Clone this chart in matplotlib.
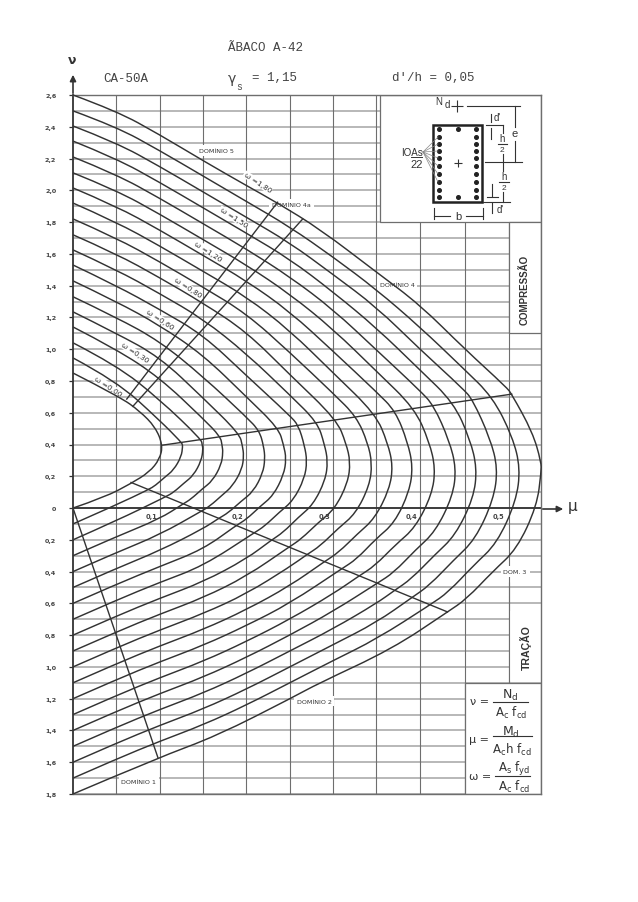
import matplotlib
matplotlib.use("Agg")
import matplotlib.pyplot as plt
from matplotlib.patches import PathPatch, Rectangle
from matplotlib.path import Path

w180 = [(0,2.6),(.05,2.5),(.10,2.35),(.152,2.18),(.20,2.03),(.236,1.92),(.285,1.755),(.35,1.485),(.40,1.28),(.452,1.0),(.50,.76),(.506,.717),(.53,.478),(.54,.29),(.54,.226),(.535,.013),(.512,-.258),(.484,-.40),(.454,-.572),(.432,-.654),(.368,-.887),(.282,-1.107),(.254,-1.19),(.166,-1.434),(.098,-1.572),(0,-1.8)]
w170 = [(0,2.50),(.05,2.40),(.10,2.25),(.15,2.09),(.20,1.93),(.25,1.77),(.30,1.58),(.35,1.375),(.40,1.14),(.45,.88),(.484,.699),(.507,.448),(.516,.25),(.511,.042),(.489,-.222),(.462,-.361),(.433,-.529),(.412,-.609),(.35,-.825),(.30,-.96),(.25,-1.10),(.20,-1.24),(.15,-1.365),(.10,-1.468),(.05,-1.58),(0,-1.70)]
w160 = [(0,2.405),(.05,2.30),(.10,2.15),(.15,1.99),(.20,1.83),(.25,1.67),(.30,1.47),(.35,1.265),(.40,1.00),(.45,.75),(.461,.681),(.481,.44),(.49,.25),(.485,.053),(.464,-.197),(.439,-.328),(.411,-.487),(.391,-.563),(.35,-.72),(.30,-.86),(.25,-1.0),(.20,-1.14),(.15,-1.265),(.10,-1.368),(.05,-1.48),(0,-1.6)]
w150 = [(0,2.31),(.05,2.20),(.10,2.05),(.15,1.89),(.20,1.73),(.25,1.567),(.30,1.36),(.35,1.134),(.40,.87),(.439,.664),(.458,.432),(.466,.25),(.462,.064),(.441,-.172),(.417,-.296),(.39,-.447),(.371,-.518),(.35,-.60),(.30,-.76),(.25,-.90),(.20,-1.04),(.15,-1.165),(.10,-1.268),(.05,-1.38),(0,-1.5)]
w140 = [(0,2.21),(.05,2.10),(.10,1.95),(.15,1.79),(.20,1.63),(.25,1.456),(.30,1.25),(.35,.995),(.40,.74),(.416,.646),(.434,.424),(.442,.25),(.438,.075),(.418,-.148),(.395,-.264),(.37,-.406),(.351,-.473),(.30,-.65),(.25,-.80),(.20,-.94),(.15,-1.065),(.10,-1.168),(.05,-1.28),(0,-1.4)]
w130 = [(0,2.11),(.05,2.0),(.10,1.85),(.15,1.69),(.20,1.53),(.25,1.347),(.30,1.126),(.35,.861),(.394,.628),(.411,.416),(.418,.25),(.414,.086),(.395,-.122),(.372,-.231),(.348,-.364),(.33,-.427),(.30,-.54),(.25,-.70),(.20,-.84),(.15,-.965),(.10,-1.068),(.05,-1.18),(0,-1.3)]
w120 = [(0,2.015),(.05,1.90),(.10,1.75),(.15,1.59),(.20,1.43),(.25,1.237),(.30,.987),(.35,.731),(.372,.61),(.386,.414),(.392,.26),(.388,.105),(.371,-.093),(.349,-.196),(.327,-.322),(.31,-.382),(.25,-.60),(.20,-.74),(.15,-.865),(.10,-.968),(.05,-1.08),(0,-1.2)]
w110 = [(0,1.92),(.05,1.80),(.10,1.65),(.15,1.49),(.20,1.33),(.25,1.118),(.30,.851),(.349,.592),(.363,.409),(.369,.265),(.365,.119),(.348,-.066),(.328,-.163),(.306,-.281),(.29,-.337),(.25,-.49),(.20,-.64),(.15,-.765),(.10,-.868),(.05,-.98),(0,-1.1)]
w100 = [(0,1.82),(.05,1.70),(.10,1.55),(.15,1.39),(.20,1.224),(.25,.98),(.30,.722),(.327,.575),(.34,.41),(.345,.28),(.342,.142),(.326,-.035),(.306,-.127),(.285,-.239),(.27,-.292),(.25,-.37),(.20,-.54),(.15,-.665),(.10,-.768),(.05,-.88),(0,-1.0)]
w090 = [(0,1.72),(.05,1.60),(.10,1.45),(.15,1.29),(.20,1.11),(.25,.84),(.304,.557),(.315,.407),(.32,.29),(.317,.16),(.302,-.005),(.283,-.091),(.263,-.196),(.249,-.246),(.20,-.43),(.15,-.565),(.10,-.668),(.05,-.78),(0,-.9)]
w080 = [(0,1.625),(.05,1.50),(.10,1.35),(.15,1.19),(.20,.972),(.25,.712),(.282,.539),(.29,.402),(.294,.295),(.291,.175),(.277,.022),(.26,-.058),(.242,-.155),(.229,-.201),(.20,-.32),(.15,-.465),(.10,-.568),(.05,-.68),(0,-.8)]
w070 = [(0,1.53),(.05,1.40),(.10,1.25),(.15,1.09),(.20,.834),(.25,.582),(.26,.521),(.267,.394),(.27,.295),(.267,.186),(.254,.047),(.238,-.026),(.221,-.114),(.209,-.156),(.15,-.365),(.10,-.468),(.05,-.58),(0,-.7)]
w060 = [(0,1.43),(.05,1.30),(.10,1.15),(.15,.964),(.20,.70),(.237,.503),(.243,.395),(.246,.31),(.243,.208),(.231,.079),(.216,.011),(.20,-.071),(.188,-.11),(.15,-.26),(.10,-.368),(.05,-.48),(0,-.6)]
w050 = [(0,1.33),(.05,1.20),(.10,1.05),(.15,.827),(.20,.573),(.215,.486),(.22,.387),(.2215,.31),(.219,.219),(.208,.104),(.194,.043),(.179,-.03),(.168,-.065),(.15,-.13),(.10,-.268),(.05,-.38),(0,-.5)]
w040 = [(0,1.235),(.05,1.10),(.10,.95),(.15,.693),(.192,.468),(.1955,.39),(.197,.33),(.195,.245),(.184,.138),(.172,.081),(.158,.013),(.148,-.02),(.10,-.168),(.05,-.28),(0,-.4)]
w030 = [(0,1.14),(.05,1.0),(.10,.82),(.15,.563),(.17,.45),(.172,.394),(.173,.35),(.171,.272),(.161,.172),(.149,.12),(.136,.056),(.127,.026),(.10,-.068),(.05,-.18),(0,-.3)]
w020 = [(0,1.04),(.05,.90),(.10,.683),(.148,.432),(.149,.397),(.15,.37),(.148,.298),(.139,.206),(.128,.157),(.116,.099),(.107,.071),(.05,-.08),(0,-.2)]
w010 = [(0,.945),(.05,.80),(.10,.552),(.125,.414),(.126,.40),(.1265,.39),(.125,.324),(.116,.239),(.106,.195),(.095,.142),(.087,.116),(.05,.02),(0,-.1)]
w000 = [(0,.85),(.054,.70),(.077,.61),(.095,.51),(.1035,.396),(.10,.308),(.088,.226),(.067,.155),(.037,.069),(0,0)]
curves = [w000, w010, w020, w030, w040, w050, w060, w070, w080, w090, w100,
          w110, w120, w130, w140, w150, w160, w170, w180]

# strain-domain limits and the two omega-side diagonals
domain_1_line = [(0, 0), (.098, -1.572)]
domain_23_line = [(.067, .161), (.432, -.654)]
domain_34_line = [(.1035, .396), (.506, .717)]
diagonal_a = [(.062, .686), (.236, 1.925)]
diagonal_b = [(.069, .64), (.265, 1.82)]

grid_mu = [.05, .10, .15, .20, .25, .30, .35, .40, .452, .503]
grid_nu = [i / 10 for i in range(-18, 27)]
nu_ticks = [2.6, 2.4, 2.2, 2.0, 1.8, 1.6, 1.4, 1.2, 1.0, .8, .6, .4, .2, 0,
            -.2, -.4, -.6, -.8, -1.0, -1.2, -1.4, -1.6, -1.8]
nu_labels = ["2,6", "2,4", "2,2", "2,0", "1,8", "1,6", "1,4", "1,2", "1,0", "0,8", "0,6", "0,4", "0,2", "0",
             "0,2", "0,4", "0,6", "0,8", "1,0", "1,2", "1,4", "1,6", "1,8"]
mu_labels = {.1: "0,1", .2: "0,2", .3: "0,3", .4: "0,4", .5: "0,5"}
omega_notes = [("ω =1,80", .213, 2.05), ("ω =1,50", .185, 1.83), ("ω =1,20", .156, 1.62),
               ("ω =0,80", .132, 1.39), ("ω =0,60", .100, 1.19), ("ω =0,30", .071, .98),
               ("ω =0,00", .040, .77)]
domain_notes = [("DOMÍNIO 5", .166, 2.25), ("DOMÍNIO 4a", .252, 1.91), ("DOMÍNIO 4", .374, 1.41),
                ("DOM. 3", .510, -.40), ("DOMÍNIO 2", .278, -1.215), ("DOMÍNIO 1", .076, -1.72)]

INK = "#333333"
GRID_H = "#ababab"
GRID_V = "#6e6e6e"
W, H = 638, 903
L, R, T, B = 73, 541, 96, 795


def rounded_path(points):
    # quadratic segments through the midpoints, so the drawn pen line has no corners
    verts = [points[0]]
    codes = [Path.MOVETO]
    for i in range(1, len(points) - 1):
        a, b = points[i], points[i + 1]
        end = b if i == len(points) - 2 else ((a[0] + b[0]) / 2, (a[1] + b[1]) / 2)
        verts += [a, end]
        codes += [Path.CURVE3, Path.CURVE3]
    return Path(verts, codes)


fig = plt.figure(figsize=(W / 100, H / 100), dpi=100, facecolor="white")
ax = fig.add_axes([L / W, 1 - B / H, (R - L) / W, (B - T) / H])
ax.set_xlim(0, (R - L) / 867)
ax.set_ylim(-1.8, 2.6)

ax.hlines(grid_nu, 0, ax.get_xlim()[1], color=GRID_H, lw=1.2, zorder=1)
ax.vlines(grid_mu, -1.8, 2.6, color=GRID_V, lw=.8, zorder=1.2)
ax.axhline(0, color=INK, lw=1.3, zorder=1.5)

# white panels of the sheet, they hide the grid under them
xmax = ax.get_xlim()[1]
panels = [(.354, 1.8, xmax - .354, .8), (.503, 1.1, xmax - .503, .7), (.452, -1.8, xmax - .452, .7)]
for x0, y0, w, h in panels:
    ax.add_patch(Rectangle((x0, y0), w, h, fc="white", ec=GRID_V, lw=.9, zorder=1.8))
ax.add_patch(Rectangle((.503, -1.09), xmax - .503, .44, fc="white", ec="none", zorder=1.7))
ax.vlines(.503, -1.1, -.465, color=GRID_V, lw=.8, zorder=1.8)

for c in curves:
    ax.add_patch(PathPatch(rounded_path(c), fc="none", ec=INK, lw=1.05, zorder=3, clip_on=False))
for c in [domain_1_line, domain_23_line, domain_34_line, diagonal_a, diagonal_b]:
    ax.plot([p[0] for p in c], [p[1] for p in c], color=INK, lw=1.0, zorder=3)

ax.set_yticks(nu_ticks, nu_labels, fontsize=4.6, color="#444444", fontweight="bold")
ax.set_xticks([])
ax.tick_params(axis="y", length=3, width=.9, color=INK, pad=9)
for s in ax.spines.values():
    s.set_color(GRID_V)
    s.set_linewidth(1.0)
ax.spines["left"].set_color(INK)
ax.spines["left"].set_linewidth(1.3)
ax.patch.set_visible(False)

for m, s in mu_labels.items():
    ax.text(m - .003, -.03, s, fontsize=4.8, color="#444444", ha="right", va="top", zorder=2.5,
            fontweight="bold", bbox=dict(fc="white", ec="none", pad=.3))
for s, m, n in omega_notes:
    ax.text(m, n, s, fontsize=5.4, rotation=-33, rotation_mode="anchor", ha="center", va="center",
            color="#333333", zorder=2.5, bbox=dict(fc="white", ec="none", pad=.5))
for s, m, n in domain_notes:
    ax.text(m, n, s, fontsize=4.6, ha="center", va="center", color="#333333", zorder=2.5,
            bbox=dict(fc="white", ec="none", pad=2))

# everything outside the plot lives in a pixel-sized overlay
ov = fig.add_axes([0, 0, 1, 1], facecolor="none")
ov.set_xlim(0, W)
ov.set_ylim(H, 0)
ov.axis("off")

mono = dict(family="Liberation Mono", color="#444444", va="center")
ov.text(265, 48, "ÃBACO A-42", ha="center", fontsize=9, **mono)
ov.text(103, 79, "CA-50A", ha="left", fontsize=9, **mono)
ov.text(252, 78, "= 1,15", ha="left", fontsize=9, **mono)
ov.text(228, 79, "γ", ha="left", va="center", fontsize=10, color="#444444", family="DejaVu Sans")
ov.text(236, 87, "s", ha="left", fontsize=7, **mono)
ov.text(392, 78, "d'/h = 0,05", ha="left", fontsize=9, **mono)
ov.text(72, 61, "ν", ha="center", va="center", fontsize=9, color=INK, fontweight="bold")
ov.text(573, 507, "μ", ha="center", va="center", fontsize=11, color=INK)
ov.annotate("", xy=(73, 73), xytext=(73, 97), arrowprops=dict(arrowstyle="-|>", color=INK, lw=1.2, mutation_scale=9))
ov.annotate("", xy=(566, 510), xytext=(540, 510), arrowprops=dict(arrowstyle="-|>", color=INK, lw=1.2, mutation_scale=9))
ov.text(525, 290, "COMPRESSÃO", rotation=90, ha="center", va="center", fontsize=7, color=INK, fontweight="bold", family="Liberation Sans")
ov.text(526, 648, "TRAÇÃO", rotation=90, ha="center", va="center", fontsize=7.6, color=INK, fontweight="bold", family="Liberation Sans")

# section sketch
ov.add_patch(Rectangle((433, 126), 49, 77, fc="none", ec="#222222", lw=1.8))
bar_y = [130, 138, 145, 152, 159, 167, 175, 183, 191, 198]
ov.plot([439] * 10 + [476] * 10 + [458, 458], bar_y + bar_y + [130, 198], "o", ms=2.6, color="#222222")
ov.plot([458], [164], "+", ms=6, color=INK, mew=.8)
ov.plot([457], [107], "+", ms=8, color=INK, mew=.8)
for y in bar_y[1:8]:
    ov.plot([423, 438], [153, y], color="#888888", lw=.5)
sketch_lines = [
    ([467, 520], [107, 107]), ([515, 515], [107, 128]), ([515, 515], [142, 163]), ([485, 522], [163, 163]),
    ([486, 503], [126, 126]), ([483, 510], [203, 203]), ([502.5, 502.5], [126, 134]), ([502.5, 502.5], [155, 172]),
    ([502.5, 502.5], [193, 203]), ([491, 491], [115, 123]), ([491, 491], [129, 140]), ([487, 498], [198, 198]),
    ([492, 492], [185, 197]), ([492, 492], [204, 214]), ([434, 450], [217, 217]), ([466, 483], [217, 217]),
    ([434, 434], [209, 220]), ([483, 483], [209, 220]), ([498, 507], [145, 145]), ([499, 509], [183, 183]),
]
for xs, ys in sketch_lines:
    ov.plot(xs, ys, color=INK, lw=.8)
sketch_text = [("N", 439, 102, 7), ("d", 447, 105, 7), ("d'", 497, 118, 7), ("e", 515, 134, 8), ("h", 502, 139, 7),
               ("2", 502, 150, 6), ("h", 504, 177, 7), ("2", 504, 188, 6), ("d'", 500, 210, 7), ("b", 458, 217, 8),
               ("IOAs", 412, 153, 7), ("22", 417, 165, 8)]
for s, x, y, fs in sketch_text:
    ov.text(x, y, s, fontsize=fs, ha="center", va="center", color=INK, family="Liberation Sans")
ov.plot([411, 422], [158, 158], color=INK, lw=.7)

# formulas
eq = dict(ha="center", va="center", color=INK, family="DejaVu Sans")
ov.text(480, 702, "ν =", fontsize=8, **eq)
ov.text(510, 695, r"$\mathrm{N_d}$", fontsize=9, **eq)
ov.plot([493, 528], [703, 703], color=INK, lw=.8)
ov.text(511, 713, r"$\mathrm{A_c\ f_{cd}}$", fontsize=8.5, **eq)
ov.text(479, 740, "μ =", fontsize=8, **eq)
ov.text(511, 732, r"$\mathrm{M_d}$", fontsize=9, **eq)
ov.plot([493, 532], [737, 737], color=INK, lw=.8)
ov.text(512, 750, r"$\mathrm{A_c h\ f_{cd}}$", fontsize=8.5, **eq)
ov.text(480, 777, "ω =", fontsize=8, **eq)
ov.text(514, 769, r"$\mathrm{A_s\ f_{yd}}$", fontsize=8.5, **eq)
ov.plot([495, 530], [777, 777], color=INK, lw=.8)
ov.text(514, 787, r"$\mathrm{A_c\ f_{cd}}$", fontsize=8.5, **eq)

fig.savefig("out.png", dpi=100, facecolor="white")
